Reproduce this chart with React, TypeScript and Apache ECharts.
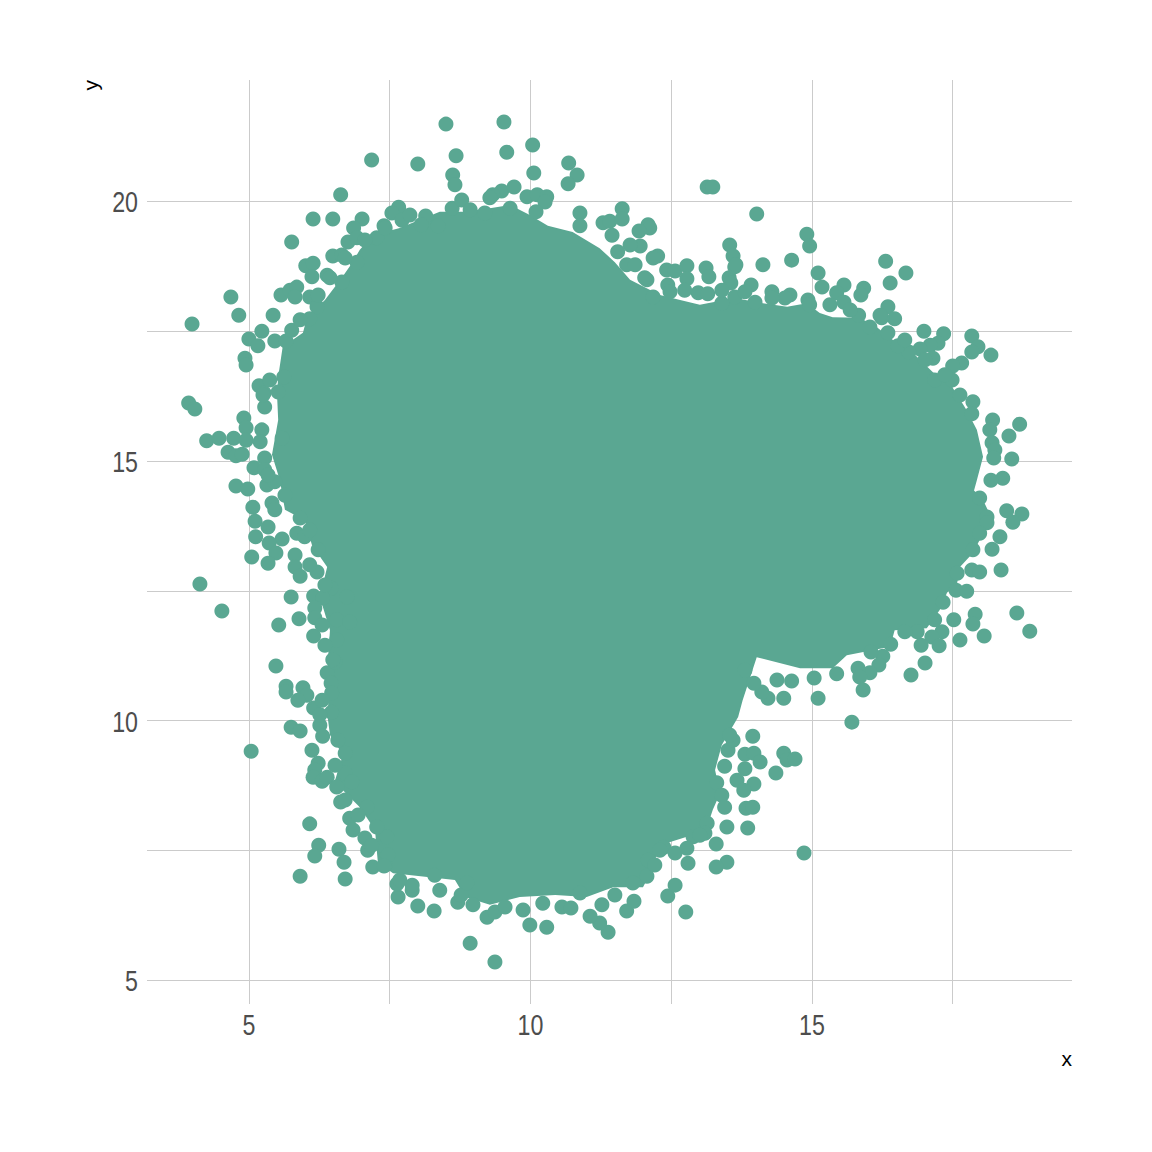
import React, { useEffect, useRef } from "react";
import * as echarts from "echarts";

const pointColor = "#5AA792";
const xRange = [3.19, 19.62];
const yRange = [4.54, 22.34];
const gridX = [5, 7.5, 10, 12.5, 15, 17.5];
const gridY = [5, 7.5, 10, 12.5, 15, 17.5, 20];
const tickX = [5, 10, 15];
const tickY = [5, 10, 15, 20];

// Outline of the region where the points overlap into a solid mass.
const coreOutline = [
  [5.52,16.62],[5.60,17.20],[5.96,17.47],[6.03,17.76],[6.35,18.10],[6.65,18.53],[6.83,18.81],[6.97,19.07],[7.20,19.35],
  [7.68,19.49],[7.95,19.61],[8.39,19.80],[8.84,19.80],[9.28,19.87],[9.64,19.93],[9.99,19.74],[10.31,19.53],[10.75,19.41],
  [11.23,19.10],[11.50,18.83],[11.77,18.49],[12.30,18.20],[12.66,18.10],[13.01,18.01],[13.63,18.14],[14.13,18.04],[14.56,17.97],
  [14.91,18.04],[15.14,17.85],[15.37,17.77],[15.85,17.76],[16.15,17.58],[16.44,17.33],[16.74,17.14],[17.15,16.71],[17.49,16.43],
  [17.75,15.98],[17.93,15.60],[18.04,15.08],[17.93,14.63],[17.88,14.43],[18.04,14.25],[18.21,13.86],[17.98,13.48],[17.86,13.23],
  [17.63,12.96],[17.58,12.65],[17.40,12.46],[17.27,12.13],[17.04,11.78],[16.47,11.74],[16.39,11.42],[15.62,11.26],[15.37,11.01],
  [14.79,11.01],[14.02,11.22],[13.77,10.39],[13.69,10.07],[13.40,9.53],[13.28,9.05],[13.37,8.60],[13.24,8.28],[13.10,7.83],
  [12.78,7.76],[12.30,7.60],[12.15,7.10],[12.00,6.79],[11.47,6.79],[11.00,6.60],[10.44,6.64],[9.81,6.60],[9.28,6.45],[8.84,6.60],
  [8.66,6.93],[8.21,6.98],[7.56,7.06],[7.29,7.27],[7.24,7.89],[6.97,8.33],[6.67,8.66],[6.53,8.85],[6.67,9.34],[6.44,9.72],
  [6.39,10.14],[6.44,10.59],[6.40,11.13],[6.44,11.74],[6.26,12.38],[6.39,12.96],[6.12,13.38],[5.99,13.86],[5.64,14.06],[5.55,14.63],
  [5.41,15.12],[5.52,15.79],[5.50,16.27],
];

const pointsUpperLeft = [
  [8.50,21.49],[7.18,20.80],[8.00,20.72],[8.68,20.88],[8.62,20.51],[8.66,20.32],[6.63,20.13],[6.14,19.66],[6.49,19.66],
  [5.76,19.22],[7.01,19.66],[6.86,19.49],[7.40,19.53],[6.76,19.22],[6.92,19.30],[7.27,19.30],[7.66,19.89],[7.54,19.78],
  [7.72,19.64],[7.86,19.74],[8.14,19.72],[8.06,19.55],[8.36,19.53],[8.61,19.87],[6.49,18.95],[6.65,18.97],[6.01,18.76],
  [6.14,18.81],[6.39,18.58],[6.12,18.55],[6.92,18.83],[6.65,18.45],[5.57,18.20],[5.73,18.29],[5.85,18.35],[5.82,18.16],
  [6.08,18.16],[4.68,18.16],[4.82,17.81],[5.43,17.81],[3.99,17.64],[6.21,17.97],[6.08,17.74],[5.23,17.50],[5.00,17.35],
  [5.16,17.22],[5.46,17.31],[5.66,17.31],[4.93,16.98],[4.95,16.85],[5.18,16.45],[5.27,16.31],[5.52,16.33],[5.62,16.62],
  [3.93,16.12],[4.04,16.00],
];

const pointsTop = [
  [9.53,21.53],[10.04,21.09],[9.58,20.95],[10.06,20.55],[10.68,20.74],[10.83,20.51],[10.67,20.34],[13.14,20.28],[13.24,20.28],
  [8.78,20.03],[8.93,19.84],[9.49,20.20],[9.71,20.28],[9.33,20.13],[9.28,20.07],[9.94,20.09],[10.12,20.13],[10.29,20.09],
  [10.26,19.99],[10.10,19.80],[9.64,19.87],[9.19,19.78],[10.88,19.78],[10.88,19.53],[11.63,19.86],[11.29,19.59],[11.41,19.62],
  [11.63,19.66],[12.09,19.55],[12.12,19.49],[11.93,19.43],[11.45,19.35],[11.95,19.14],[11.77,19.16],[11.55,19.03],[12.26,18.95],
  [12.18,18.91],[11.71,18.78],[12.42,18.68],[12.57,18.66],[12.78,18.76],[12.78,18.51],[13.12,18.72],[13.17,18.55],[12.44,18.39],
  [12.98,18.24],[13.15,18.22],[13.53,18.53],[13.54,19.16],[13.60,18.95],[13.63,18.74],[13.63,18.16],[13.40,18.04],[12.07,18.49],
  [12.18,18.16],
];

const pointsUpperRight = [
  [14.02,19.76],[14.91,19.37],[14.96,19.14],[14.13,18.78],[14.64,18.87],[13.65,18.78],[13.56,18.43],[13.92,18.39],[14.29,18.26],
  [15.11,18.62],[15.18,18.35],[16.31,18.85],[16.67,18.62],[16.39,18.43],[15.57,18.39],[15.44,18.24],[15.57,18.06],[15.92,18.33],
  [15.87,18.20],[14.61,18.20],[14.52,18.14],[13.99,18.06],[14.93,18.10],[14.96,18.01],[16.35,17.97],[15.83,17.81],[16.47,17.74],
  [16.24,17.76],[16.03,17.58],[16.35,17.47],[16.99,17.50],[17.34,17.45],[17.24,17.27],[17.10,17.23],[16.92,17.16],[16.72,17.10],
  [16.53,17.22],[17.15,16.98],[17.84,17.41],[17.95,17.20],[17.84,17.10],[18.18,17.04],[17.66,16.89],[17.50,16.83],[17.49,16.56],
  [17.18,16.56],[17.63,16.27],[17.86,16.14],[17.84,15.91],[18.21,15.79],[18.16,15.60],[18.69,15.71],[18.50,15.48],[18.20,15.35],
  [18.25,15.21],[18.23,15.06],[18.55,15.04],[18.39,14.67],[18.18,14.63],
];

const pointsLowerRight = [
  [18.46,14.04],[18.73,13.98],[18.57,13.82],[18.34,13.54],[18.20,13.30],[18.36,12.90],[17.98,14.29],[18.11,13.92],[18.11,13.81],
  [17.98,13.61],[17.86,13.29],[17.84,12.90],[17.98,12.86],[17.58,12.84],[17.56,12.51],[17.75,12.49],[17.33,12.28],[17.90,12.05],
  [17.86,11.86],[18.64,12.07],[18.87,11.72],[17.52,11.94],[18.06,11.63],[17.63,11.55],[17.31,11.71],[17.13,11.61],[17.26,11.44],
  [16.94,11.45],[16.87,11.71],[17.01,11.11],[16.76,10.88],[16.40,11.47],[16.26,11.24],[16.19,11.07],[16.03,10.92],[15.82,11.01],
  [15.85,10.84],[15.91,10.59],[16.05,11.32],[15.44,10.90],[15.04,10.82],[15.11,10.43],[15.71,9.97],
];

const pointsNotch = [
  [14.50,10.43],[14.22,10.43],[14.11,10.55],[13.97,10.72],[14.64,10.76],[14.38,10.78],[13.95,9.70],[13.51,9.43],[13.60,9.62],
  [13.81,9.35],[13.97,9.37],[14.08,9.20],[14.50,9.37],[14.56,9.24],[14.70,9.26],[14.36,8.99],[13.81,9.07],[13.45,9.12],[13.67,8.85],
  [13.97,8.78],[13.79,8.66],[13.31,8.80],[13.40,8.56],[13.45,8.33],[13.83,8.31],[13.95,8.33],[13.49,7.95],[13.86,7.93],[13.14,8.02],
  [13.10,7.83],[12.89,7.76],[13.30,7.62],[14.86,7.45],[13.49,7.27],[13.30,7.18],[12.37,7.56],[12.57,7.45],[12.78,7.54],[12.80,7.25],
  [12.09,7.31],
];

const pointsBottom = [
  [9.37,5.35],[8.93,5.71],[9.99,6.06],[10.29,6.02],[11.38,5.92],[11.23,6.10],[11.06,6.23],[11.27,6.45],[11.71,6.33],[11.84,6.52],
  [11.50,6.64],[12.76,6.31],[12.44,6.62],[12.57,6.83],[12.07,7.00],[11.82,6.87],[10.56,6.41],[10.72,6.39],[9.87,6.35],[10.22,6.48],
  [9.23,6.21],[9.37,6.31],[9.55,6.41],[8.98,6.45],[8.71,6.50],[8.77,6.64],[8.29,6.33],[8.00,6.43],[7.65,6.60],[7.90,6.73],[7.63,6.85],
  [7.90,6.83],[7.42,7.22],[7.47,7.41],[7.45,7.76],[10.88,6.68],[8.30,7.02],[8.87,6.87],
];

const pointsLowerLeft = [
  [5.48,11.05],[5.66,10.66],[5.66,10.55],[5.96,10.63],[6.03,10.49],[5.87,10.39],[6.15,10.24],[5.75,9.87],[5.91,9.80],[6.26,9.91],
  [6.31,9.70],[5.04,9.41],[6.12,9.43],[6.23,9.18],[6.17,9.05],[6.14,8.91],[6.30,8.83],[6.39,8.91],[6.56,8.72],[6.63,8.43],[6.79,8.12],
  [6.85,7.89],[7.06,7.74],[6.08,8.01],[6.24,7.60],[6.17,7.39],[6.60,7.52],[6.69,7.27],[6.71,6.95],[5.91,7.00],[7.11,7.50],[7.20,7.18],
  [7.40,7.20],[6.39,10.92],[6.46,10.72],[6.47,10.53],[6.47,10.16],[6.53,11.13],[6.58,9.62],[6.71,9.37],[6.71,8.99],[6.83,8.82],
  [7.10,8.33],[7.27,7.95],
];

const pointsLeft = [
  [4.25,15.39],[4.47,15.44],[4.73,15.44],[4.63,15.17],[4.77,15.10],[4.88,15.13],[4.91,15.83],[4.95,15.64],[4.95,15.40],[5.23,15.60],
  [5.20,15.37],[5.28,16.04],[5.25,16.27],[5.59,15.44],[5.09,14.87],[5.28,15.06],[5.28,14.83],[4.77,14.52],[4.98,14.46],[5.32,14.54],
  [5.46,14.60],[5.07,14.11],[5.41,14.19],[5.46,14.06],[5.11,13.84],[5.34,13.73],[5.12,13.54],[5.59,13.50],[5.36,13.42],[5.48,13.23],
  [5.05,13.15],[5.34,13.03],[5.85,13.61],[5.99,13.54],[5.82,13.19],[5.82,12.96],[5.91,12.78],[6.21,12.86],[5.91,13.90],[4.13,12.63],
  [4.52,12.11],[5.75,12.38],[6.15,12.40],[6.46,12.55],[6.31,12.36],[6.74,12.38],[6.17,12.17],[6.17,11.98],[5.89,11.96],[5.53,11.84],
  [6.15,11.63],[6.56,11.94],[6.79,11.90],[6.56,11.55],[6.49,11.17],
];

// Dots that make the rim of the solid mass bumpy, as it is in the picture.
const pointsRim = [
  [12.74,18.29],[12.48,18.26],[12.03,18.53],[11.86,18.78],[13.40,18.29],[13.81,18.26],[14.29,18.14],[15.32,18.01],[15.68,17.91],
  [16.21,17.81],[16.65,17.33],[17.01,16.95],[17.36,16.66],[5.76,17.52],[5.91,17.72],[6.23,18.20],[6.44,18.53],[6.71,18.91],
  [7.06,19.26],[7.42,19.49],[5.37,16.56],[5.34,14.73],[5.64,14.34],[6.08,13.67],[6.23,13.29],[6.08,13.00],[6.35,12.61],[6.30,11.84],
  [6.35,11.45],[6.30,10.39],[6.26,10.11],[6.53,9.14],[6.71,8.47],[6.94,8.18],[7.18,7.60],[7.68,6.93],[8.39,6.73],[12.30,7.50],
  [12.21,7.22],[13.01,7.79],[13.54,9.72],[13.81,10.97],[16.65,11.71],[17.18,11.94],
];

const allPoints = [
  ...pointsUpperLeft, ...pointsTop, ...pointsUpperRight, ...pointsLowerRight,
  ...pointsNotch, ...pointsBottom, ...pointsLowerLeft, ...pointsLeft, ...pointsRim,
];

const fontFamily = "'Liberation Sans', Arial, sans-serif";
const labelStyle = { fontFamily, fontSize: 29, fill: "#4d4d4d" };

export default function App() {
  const ref = useRef<HTMLDivElement>(null);
  useEffect(() => {
    const chart = echarts.init(ref.current!, null, { renderer: "svg" });
    const gridLine = { show: true, lineStyle: { color: "#cbcbcb", width: 1 } };
    chart.setOption({
      animation: false,
      backgroundColor: "#ffffff",
      grid: { left: 147, top: 80, width: 925, height: 924, containLabel: false },
      xAxis: {
        type: "value", min: xRange[0], max: xRange[1], scale: true,
        name: "x", nameLocation: "end", nameGap: 0,
        nameTextStyle: { color: "#000000", fontFamily, fontSize: 21, align: "right", verticalAlign: "top", padding: [44, 0, 0, 0] },
        axisLine: { show: false },
        axisTick: { show: false, customValues: gridX },
        splitLine: gridLine,
        axisLabel: { show: false },
      },
      yAxis: {
        type: "value", min: yRange[0], max: yRange[1], scale: true,
        name: "y", nameLocation: "end", nameGap: 0, nameRotate: 90,
        nameTextStyle: { color: "#000000", fontFamily, fontSize: 21, align: "right", verticalAlign: "bottom", padding: [0, 0, 46, 0] },
        axisLine: { show: false },
        axisTick: { show: false, customValues: gridY },
        splitLine: gridLine,
        axisLabel: { show: false },
      },
      series: [
        {
          type: "custom",
          coordinateSystem: "cartesian2d",
          silent: true,
          z: 2,
          data: coreOutline,
          encode: { x: 0, y: 1 },
          renderItem: (params: any, api: any) => {
            if (params.dataIndex !== 0) return null;
            return {
              type: "polygon",
              shape: { points: coreOutline.map((p) => api.coord(p)) },
              style: { fill: pointColor },
            };
          },
        },
        {
          type: "scatter",
          z: 3,
          symbol: "circle",
          symbolSize: 15,
          itemStyle: { color: pointColor, opacity: 1 },
          data: allPoints,
        },
        {
          type: "custom",
          coordinateSystem: "cartesian2d",
          silent: true,
          z: 4,
          data: tickX.map((v) => [v, yRange[0]]),
          encode: { x: 0, y: 1 },
          renderItem: (_: any, api: any) => {
            const c = api.coord([api.value(0), api.value(1)]);
            return {
              type: "text", x: c[0], y: c[1] + 21, scaleX: 0.8,
              style: { ...labelStyle, text: String(api.value(0)), align: "center", verticalAlign: "middle" },
            };
          },
        },
        {
          type: "custom",
          coordinateSystem: "cartesian2d",
          silent: true,
          z: 4,
          data: tickY.map((v) => [xRange[0], v]),
          encode: { x: 0, y: 1 },
          renderItem: (_: any, api: any) => {
            const c = api.coord([api.value(0), api.value(1)]);
            return {
              type: "text", x: c[0] - 9, y: c[1] + 1, scaleX: 0.8,
              style: { ...labelStyle, text: String(api.value(1)), align: "right", verticalAlign: "middle" },
            };
          },
        },
      ],
    });
    return () => chart.dispose();
  }, []);
  return <div ref={ref} style={{ position: "absolute", left: 0, top: 0, width: 1152, height: 1152 }} />;
}
